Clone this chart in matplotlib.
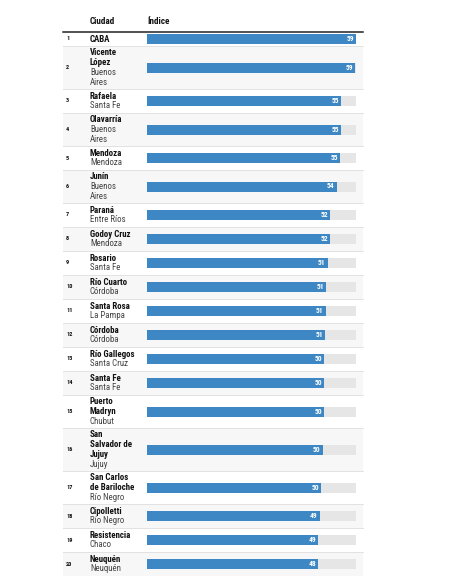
import matplotlib.pyplot as plt
from matplotlib.patches import Rectangle
from matplotlib import font_manager as fm

# Datos del ranking
ranks = list(range(1, 21))
cities = ['CABA', 'Vicente\nLópez', 'Rafaela', 'Olavarría', 'Mendoza', 'Junín', 'Paraná',
          'Godoy Cruz', 'Rosario', 'Río Cuarto', 'Santa Rosa', 'Córdoba', 'Río Gallegos',
          'Santa Fe', 'Puerto\nMadryn', 'San\nSalvador de\nJujuy', 'San Carlos\nde Bariloche',
          'Cipolletti', 'Resistencia', 'Neuquén']
provinces = ['', 'Buenos\nAires', 'Santa Fe', 'Buenos\nAires', 'Mendoza', 'Buenos\nAires',
             'Entre Ríos', 'Mendoza', 'Santa Fe', 'Córdoba', 'La Pampa', 'Córdoba', 'Santa Cruz',
             'Santa Fe', 'Chubut', 'Jujuy', 'Río Negro', 'Río Negro', 'Chaco', 'Neuquén']
values = [59.3, 59.0, 55.1, 55.0, 54.8, 53.8, 51.9, 51.9, 51.3, 50.8,
          50.7, 50.6, 50.2, 50.2, 50.2, 49.8, 49.5, 49.0, 48.6, 48.5]

W, H = 470, 578

# Fuente angosta si existe
installed = {f.name for f in fm.fontManager.ttflist}
font = 'DejaVu Sans'
for cand in ['Liberation Sans Narrow', 'Roboto Condensed', 'Roboto', 'Liberation Sans']:
    if cand in installed:
        font = cand
        break
plt.rcParams['font.family'] = [font, 'DejaVu Sans']

fig = plt.figure(figsize=(W / 100, H / 100), dpi=100)
ax = fig.add_axes([0, 0, 1, 1])
ax.set_xlim(0, W)
ax.set_ylim(H, 0)
ax.axis('off')

x0, x1 = 63, 363
pitch = 9.8
row_h = {1: 14, 2: 24, 3: 33, 4: 43}
fs = 6.4

# Encabezado
ax.text(90, 22, 'Ciudad', fontsize=6.6, fontweight='bold', va='center', color='#111')
ax.text(147, 22, 'Índice', fontsize=6.6, fontweight='bold', va='center', color='#111')

y = 32
centers = []
for i, (c, p) in enumerate(zip(cities, provinces)):
    lines = [(t, 'bold', '#111') for t in c.split('\n')]
    if p:
        lines += [(t, 'normal', '#444') for t in p.split('\n')]
    n = len(lines)
    h = row_h[n]
    if i % 2 == 1:
        ax.add_patch(Rectangle((x0, y), x1 - x0, h, color='#f7f7f7', zorder=0, lw=0))
    cy = y + h / 2
    centers.append(cy)
    for k, (t, w, col) in enumerate(lines):
        ax.text(90, cy + (k - (n - 1) / 2) * pitch, t, fontsize=fs, fontweight=w,
                color=col, va='center')
    ax.text(66, cy, str(ranks[i]), fontsize=4.5, fontweight='bold', va='center', color='#111')
    y += h
    if i < len(cities) - 1:
        ax.plot([x0, x1], [y, y], color='#e2e2e2', lw=0.7, zorder=1)

ax.plot([x0, x1], [32, 32], color='#222', lw=1.1, zorder=2)

# Barras
vmax = max(values)
bx = fig.add_axes([147 / W, 0, 209 / W, 1])
bx.set_xlim(0, vmax)
bx.set_ylim(H, 0)
bx.axis('off')
bx.patch.set_alpha(0)
bx.barh(centers, [vmax] * len(values), height=10, color='#e6e6e6', zorder=1)
bx.barh(centers, values, height=10, color='#3d87c4', zorder=2)
for cy, v in zip(centers, values):
    bx.annotate(f'{v:.0f}', xy=(v, cy), xytext=(-1.5, 0), textcoords='offset points',
                ha='right', va='center', fontsize=5.4, fontweight='bold', color='white', zorder=3)

fig.savefig('out.png', dpi=100)
